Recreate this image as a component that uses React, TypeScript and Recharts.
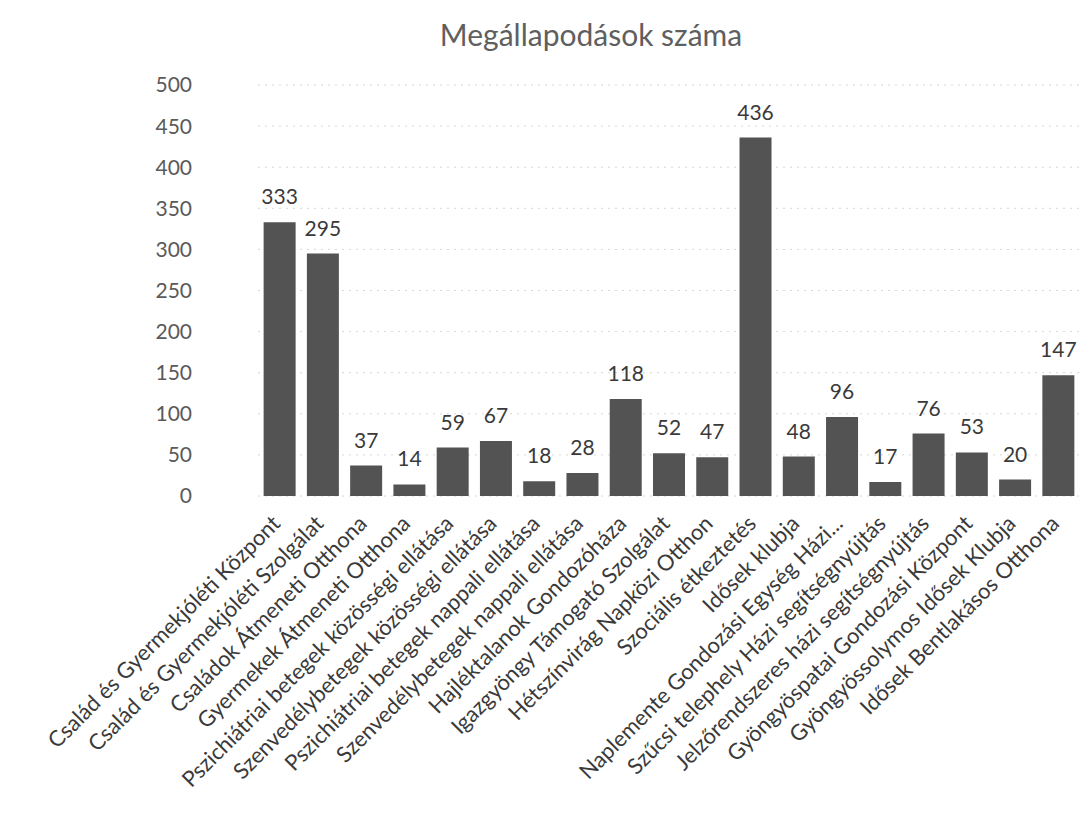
import React from "react";
import { BarChart, Bar, XAxis, YAxis, CartesianGrid, LabelList } from "recharts";

const categories = [
  "Család és Gyermekjóléti Központ",
  "Család és Gyermekjóléti Szolgálat",
  "Családok Átmeneti Otthona",
  "Gyermekek Átmeneti Otthona",
  "Pszichiátriai betegek közösségi ellátása",
  "Szenvedélybetegek közösségi ellátása",
  "Pszichiátriai betegek nappali ellátása",
  "Szenvedélybetegek nappali ellátása",
  "Hajléktalanok Gondozóháza",
  "Igazgyöngy Támogató Szolgálat",
  "Hétszínvirág Napközi Otthon",
  "Szociális étkeztetés",
  "Idősek klubja",
  "Naplemente Gondozási Egység Házi...",
  "Szűcsi telephely Házi segítségnyújtás",
  "Jelzőrendszeres házi segítségnyújtás",
  "Gyöngyöspatai Gondozási Központ",
  "Gyöngyössolymos Idősek Klubja",
  "Idősek Bentlakásos Otthona",
];

const values = [333, 295, 37, 14, 59, 67, 18, 28, 118, 52, 47, 436, 48, 96, 17, 76, 53, 20, 147];

const yTicks = [0, 50, 100, 150, 200, 250, 300, 350, 400, 450, 500];

const title = "Megállapodások száma";

const data = categories.map((name, i) => ({ name, value: values[i] }));

const FONT = "Lato, 'Open Sans', sans-serif";

const XTick = (props: any) => {
  const { x, y, payload } = props;
  return (
    <g transform={`translate(${x + 2},${y + 29})`}>
      <text
        x={0}
        y={0}
        textAnchor="end"
        transform="rotate(-45)"
        fontFamily={FONT}
        fontSize={22}
        fill="#3a3a3a"
      >
        {payload.value}
      </text>
    </g>
  );
};

export default function App() {
  return (
    <div style={{ position: "absolute", left: 0, top: 0, width: 1086, height: 825, background: "#ffffff" }}>
      <div
        style={{
          position: "absolute",
          left: 391,
          width: 400,
          top: 14,
          textAlign: "center",
          fontFamily: FONT,
          fontSize: 30,
          color: "#5f5f5f",
          lineHeight: "40px",
        }}
      >
        {title}
      </div>
      <BarChart
        width={1086}
        height={825}
        data={data}
        margin={{ top: 85, right: 6, bottom: 0, left: 158 }}
        barCategoryGap="13%"
      >
        <CartesianGrid vertical={false} stroke="#d6d6d6" strokeDasharray="2 5" />
        <XAxis
          dataKey="name"
          interval={0}
          height={329}
          tickLine={false}
          tickSize={0}
          tickMargin={0}
          axisLine={false}
          tick={<XTick />}
        />
        <YAxis
          width={100}
          domain={[0, 500]}
          ticks={yTicks}
          tickLine={false}
          axisLine={false}
          tickMargin={60}
          tick={{ fontFamily: FONT, fontSize: 21, fill: "#5a5a5a" }}
        />
        <Bar dataKey="value" fill="#535353" isAnimationActive={false}>
          <LabelList
            dataKey="value"
            position="top"
            offset={18}
            style={{ fontFamily: FONT, fontSize: 21, fill: "#3a3a3a" }}
          />
        </Bar>
      </BarChart>
    </div>
  );
}
